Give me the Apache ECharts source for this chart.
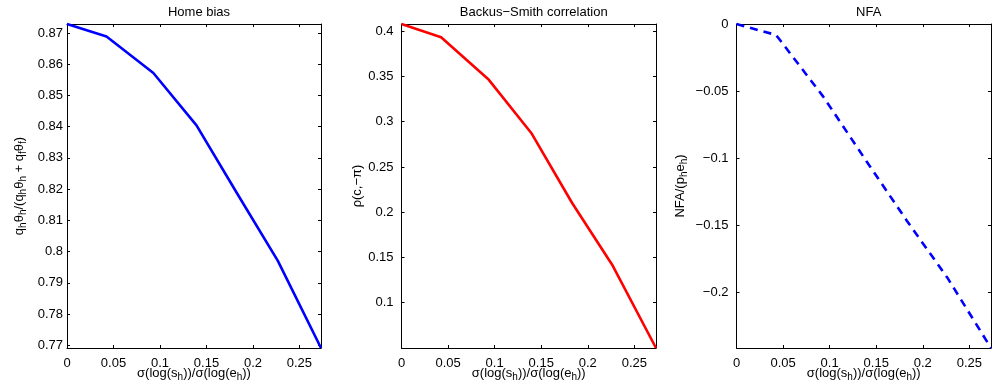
<!DOCTYPE html>
<html>
<head>
<meta charset="utf-8">
<script src="https://cdn.jsdelivr.net/npm/echarts@6/dist/echarts.min.js"></script>
<style>
html,body{margin:0;padding:0;background:#fff;}
#c{width:995px;height:392px;}
</style>
</head>
<body>
<div id="c"></div>
<script>
// ---- data ----
var xVals = [0, 0.0425, 0.0929, 0.1393, 0.1830, 0.2268, 0.2732];
var homeBias = [0.8729, 0.8689, 0.8572, 0.8404, 0.8186, 0.7970, 0.7691];
var backusSmith = [0.4080, 0.3934, 0.3473, 0.2876, 0.2105, 0.1408, 0.0500];
var nfa = [0, -0.0082, -0.0540, -0.1022, -0.1470, -0.1898, -0.2418];

var xTicks = [0, 0.05, 0.1, 0.15, 0.2, 0.25];
var y1Ticks = [0.77, 0.78, 0.79, 0.8, 0.81, 0.82, 0.83, 0.84, 0.85, 0.86, 0.87];
var y2Ticks = [0.1, 0.15, 0.2, 0.25, 0.3, 0.35, 0.4];
var y3Ticks = [-0.2, -0.15, -0.1, -0.05, 0];

var titles = ['Home bias', 'Backus\u2212Smith correlation', 'NFA'];
var xRange = [0, 0.2732];
var yRanges = [[0.7691, 0.8729], [0.0500, 0.4080], [-0.2418, 0]];

// ---- layout ----
var grids = [
  {left: 67, top: 24, width: 254, height: 324, outerBoundsMode: 'none', containLabel: false},
  {left: 401.5, top: 24, width: 254.5, height: 324, outerBoundsMode: 'none', containLabel: false},
  {left: 736.5, top: 24, width: 254.5, height: 324, outerBoundsMode: 'none', containLabel: false}
];
var FONT = 'Liberation Sans, Arial, Helvetica, sans-serif';
var FS = 13;
var rich = {
  m: {fontSize: FS, fontFamily: FONT, color: '#000', lineHeight: 16},
  s: {fontSize: 10, fontFamily: FONT, color: '#000', lineHeight: 10, padding: [8, 0, 0, 0]}
};
var xName = '{m|\u03c3(log(s}{s|h}{m|))/\u03c3(log(e}{s|h}{m|))}';
var yNames = [
  '{m|q}{s|h}{m|\u03b8}{s|h}{m|/(q}{s|h}{m|\u03b8}{s|h}{m| + q}{s|f}{m|\u03b8}{s|f}{m|)}',
  '{m|\u03c1(c,\u2212\u03c0)}',
  '{m|NFA/(p}{s|h}{m|e}{s|h}{m|)}'
];
var yNameGaps = [40, 36, 48];
var yLabelMargins = [4, 8, 8];

function fmt(v) {
  var s = String(Number(v.toFixed(4)));
  return s.replace('-', '\u2212');
}

var tickStyle = {show: true, inside: true, length: 3, lineStyle: {color: '#000', width: 1}};
var lineStyleAxis = {show: true, onZero: false, lineStyle: {color: '#000', width: 1}};

var xAxes = [], yAxes = [], series = [], titleArr = [];
var seriesData = [homeBias, backusSmith, nfa];
var yTicksAll = [y1Ticks, y2Ticks, y3Ticks];
var colors = ['#0000ff', '#ff0000', '#0000ff'];

for (var i = 0; i < 3; i++) {
  titleArr.push({
    text: titles[i],
    left: grids[i].left + grids[i].width / 2,
    top: 1,
    textAlign: 'center',
    textStyle: {fontSize: FS, fontWeight: 'normal', fontFamily: FONT, color: '#000'}
  });
  xAxes.push({
    type: 'value', gridIndex: i, position: 'bottom', min: xRange[0], max: xRange[1],
    axisLine: lineStyleAxis,
    axisTick: Object.assign({customValues: xTicks}, tickStyle),
    axisLabel: {customValues: xTicks, formatter: fmt, margin: 9, fontSize: FS, fontFamily: FONT, color: '#000'},
    splitLine: {show: false},
    name: xName, nameLocation: 'middle', nameGap: 17, nameMoveOverlap: false,
    nameTextStyle: {rich: rich}
  });
  xAxes.push({
    type: 'value', gridIndex: i, position: 'top', min: xRange[0], max: xRange[1],
    axisLine: lineStyleAxis,
    axisTick: Object.assign({customValues: xTicks}, tickStyle),
    axisLabel: {show: false},
    splitLine: {show: false}
  });
  yAxes.push({
    type: 'value', gridIndex: i, position: 'left', min: yRanges[i][0], max: yRanges[i][1],
    axisLine: lineStyleAxis,
    axisTick: Object.assign({customValues: yTicksAll[i]}, tickStyle),
    axisLabel: {customValues: yTicksAll[i], formatter: fmt, margin: yLabelMargins[i], fontSize: FS, fontFamily: FONT, color: '#000'},
    splitLine: {show: false},
    name: yNames[i], nameLocation: 'middle', nameGap: yNameGaps[i], nameRotate: 90, nameMoveOverlap: false,
    nameTextStyle: {rich: rich}
  });
  yAxes.push({
    type: 'value', gridIndex: i, position: 'right', min: yRanges[i][0], max: yRanges[i][1],
    axisLine: lineStyleAxis,
    axisTick: Object.assign({customValues: yTicksAll[i]}, tickStyle),
    axisLabel: {show: false},
    splitLine: {show: false}
  });
  var pts = [];
  for (var k = 0; k < xVals.length; k++) pts.push([xVals[k], seriesData[i][k]]);
  series.push({
    type: 'line', xAxisIndex: 2 * i, yAxisIndex: 2 * i, data: pts,
    symbol: 'none', silent: true, clip: false, animation: false,
    lineStyle: {color: colors[i], width: 2.6, type: i === 2 ? [8, 6] : 'solid', cap: 'butt', join: 'round'}
  });
}

var chart = echarts.init(document.getElementById('c'), null, {renderer: 'canvas'});
chart.setOption({
  animation: false,
  backgroundColor: '#fff',
  title: titleArr,
  grid: grids,
  xAxis: xAxes,
  yAxis: yAxes,
  series: series
});
</script>
</body>
</html>
